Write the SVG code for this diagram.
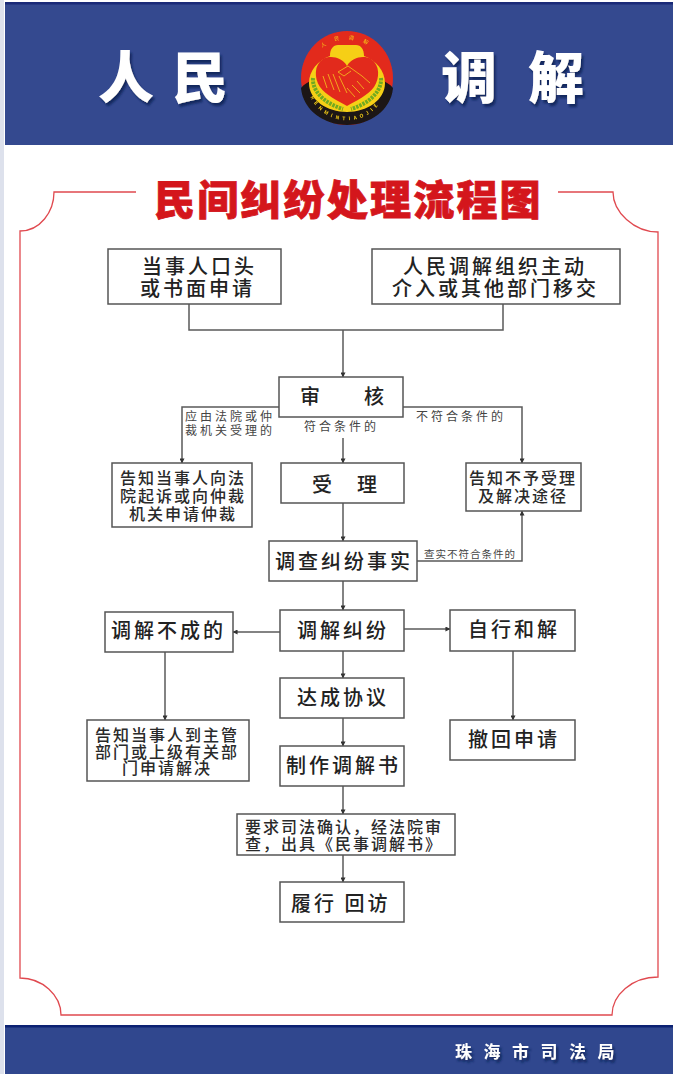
<svg xmlns="http://www.w3.org/2000/svg" xmlns:xlink="http://www.w3.org/1999/xlink" width="673" height="1074" viewBox="0 0 673 1074">
<style>
text{font-family:"Noto Sans CJK SC","Noto Sans",sans-serif;white-space:pre}
.box{fill:#fff;stroke:#555;stroke-width:1.5}
.t20{font-size:20px;font-weight:500;fill:#222;letter-spacing:3px}
.t17{font-size:16px;font-weight:500;fill:#2a2a2a;letter-spacing:2px}
.lab{font-size:12px;fill:#444;letter-spacing:3px}
.con{fill:none;stroke:#5a5a5a;stroke-width:1.5}
.arr{marker-end:url(#ah)}
.head{font-size:56px;font-weight:900;fill:#fff;filter:url(#sh)}
</style>
<defs>
<marker id="ah" viewBox="0 0 6 6" refX="5.5" refY="3" markerWidth="5" markerHeight="5" markerUnits="userSpaceOnUse" orient="auto"><path d="M0 0L6 3L0 6Z" fill="#333"/></marker>
<filter id="sh" x="-20%" y="-20%" width="140%" height="140%"><feDropShadow dx="2" dy="3" stdDeviation="1.2" flood-color="#10205a" flood-opacity="0.9"/></filter>
<filter id="soft"><feGaussianBlur stdDeviation="0.4"/></filter>
<path id="logoBottom" d="M310 96A40.300 40.300 0 0 0 384 96"/>
<path id="logoTop" d="M320 50A40 40 0 0 1 374 50"/>
</defs>
<rect width="673" height="1074" fill="#fff"/>
<rect x="0" y="0" width="4" height="1074" fill="#dde1ec"/>
<g id="header">
<rect x="5" y="2" width="668" height="143" fill="#34498f"/>
<rect x="5" y="2" width="668" height="2.500" fill="#1a2a78"/>
<text class="head" x="98" y="98">人</text>
<text class="head" x="172" y="98">民</text>
<text class="head" x="441" y="98">调</text>
<text class="head" x="528" y="98">解</text>
</g>
<g id="logo" filter="url(#soft)">
<ellipse cx="347" cy="78" rx="46" ry="47" fill="#e2291f"/>
<path d="M301 88C304 84 309 82 312 80L340 110H354L382 80C385 82 390 84 393 88C391 110 370 125 347 125C324 125 303 110 301 88Z" fill="#1c1512"/>
<path d="M330 56C330 49 333 45 338 45H356C361 45 364 49 364 56C376 60 385 71 385 83C385 100 367 112 347 112C327 112 309 100 309 83C309 71 318 60 330 56Z" fill="#f6cf16"/>
<path d="M347 66C342 57 330 55 323 59C314 65 314 78 320 87C326 95 338 101 347 106C356 101 368 95 374 87C380 78 380 65 371 59C364 55 352 57 347 66Z" fill="#e2291f"/>
<path d="M313 78C312 90 323 103 343 109M381 78C382 90 371 103 351 109" fill="none" stroke="#6faa22" stroke-width="4" stroke-dasharray="2.500 1"/>
<path d="M338 72L348 66L362 76L370 83M338 72L344 76L351 71M323 76L327 88M328 74L334 90M333 74L340 92M339 76L347 93M347 88L355 97M352 85L360 93M357 81L364 89" fill="none" stroke="#f2a51e" stroke-width="1"/>
<text font-size="5" fill="#f6cf16" letter-spacing="9"><textPath xlink:href="#logoTop" href="#logoTop" startOffset="3">人民调解</textPath></text>
<text font-size="5" font-weight="700" fill="#f6cf16" letter-spacing="3.500"><textPath xlink:href="#logoBottom" href="#logoBottom" startOffset="1">RENMINTIAOJIE</textPath></text>
</g>
<g id="title">
<text x="154" y="215" font-size="41" font-weight="900" fill="#d4161c" stroke="#d4161c" stroke-width="0.800" letter-spacing="2.200">民间纠纷处理流程图</text>
</g>
<path id="frame" d="M136 192H54C54 212 40 231 20 231V978C42 978 61 995 61 1015H612C612 995 632 977 658 977V232C634 232 613 212 613 192H558" fill="none" stroke="#e0494f" stroke-width="1.300"/>
<g id="connectors">
<path class="con" d="M189 304V330H503V304"/>
<path class="con arr" d="M343 330V377"/>
<path class="con arr" d="M279 407H182V463"/>
<path class="con arr" d="M403 407H522V463"/>
<path class="con arr" d="M343 438V463"/>
<path class="con arr" d="M343 503V541"/>
<path class="con arr" d="M417 561H522V511"/>
<path class="con arr" d="M343 581V610"/>
<path class="con arr" d="M280 632H233"/>
<path class="con arr" d="M404 629H450"/>
<path class="con arr" d="M165 652V720"/>
<path class="con arr" d="M513 651V720"/>
<path class="con arr" d="M343 651V678"/>
<path class="con arr" d="M343 718V746"/>
<path class="con arr" d="M343 786V814"/>
<path class="con arr" d="M343 855V882"/>
</g>
<g id="labels">
<text class="lab"><tspan x="185" y="421">应由法院或仲</tspan><tspan x="185" y="435">裁机关受理的</tspan></text>
<text class="lab" x="304" y="431">符合条件的</text>
<text class="lab" x="416" y="421">不符合条件的</text>
<text class="lab" x="424" y="558" style="font-size:10.500px;letter-spacing:1px">查实不符合条件的</text>
</g>
<g id="n1"><rect class="box" x="108" y="249" width="173" height="55"/><text class="t20"><tspan x="142" y="274">当事人口头</tspan><tspan x="140" y="296">或书面申请</tspan></text></g>
<g id="n2"><rect class="box" x="372" y="249" width="248" height="55"/><text class="t20"><tspan x="403" y="274">人民调解组织主动</tspan><tspan x="392" y="296">介入或其他部门移交</tspan></text></g>
<g id="n3"><rect class="box" x="279" y="377" width="124" height="40"/><text class="t20" x="300" y="404" style="letter-spacing:44px">审核</text></g>
<g id="n4"><rect class="box" x="281" y="463" width="123" height="40"/><text class="t20" x="312" y="492" style="letter-spacing:25px">受理</text></g>
<g id="n5"><rect class="box" x="112" y="463" width="140" height="64"/><text class="t17"><tspan x="120" y="484">告知当事人向法</tspan><tspan x="120" y="502">院起诉或向仲裁</tspan><tspan x="129" y="520">机关申请仲裁</tspan></text></g>
<g id="n6"><rect class="box" x="466" y="463" width="115" height="48"/><text class="t17"><tspan x="469" y="484">告知不予受理</tspan><tspan x="478" y="502">及解决途径</tspan></text></g>
<g id="n7"><rect class="box" x="269" y="541" width="148" height="40"/><text class="t20" x="275" y="569">调查纠纷事实</text></g>
<g id="n8"><rect class="box" x="280" y="610" width="124" height="41"/><text class="t20" x="297" y="638">调解纠纷</text></g>
<g id="n9"><rect class="box" x="105" y="612" width="128" height="40"/><text class="t20" x="111" y="638">调解不成的</text></g>
<g id="n10"><rect class="box" x="450" y="610" width="125" height="41"/><text class="t20" x="468" y="637">自行和解</text></g>
<g id="n11"><rect class="box" x="280" y="678" width="124" height="40"/><text class="t20" x="297" y="705">达成协议</text></g>
<g id="n12"><rect class="box" x="280" y="746" width="124" height="40"/><text class="t20" x="286" y="773">制作调解书</text></g>
<g id="n13"><rect class="box" x="237" y="814" width="218" height="41"/><text class="t17"><tspan x="245" y="833">要求司法确认，经法院审</tspan><tspan x="245" y="850">查，出具《民事调解书》</tspan></text></g>
<g id="n14"><rect class="box" x="280" y="882" width="124" height="40"/><text class="t20" x="291" y="911">履行 回访</text></g>
<g id="n15"><rect class="box" x="87" y="720" width="162" height="61"/><text class="t17"><tspan x="95" y="741">告知当事人到主管</tspan><tspan x="95" y="758">部门或上级有关部</tspan><tspan x="122" y="774">门申请解决</tspan></text></g>
<g id="n16"><rect class="box" x="450" y="720" width="125" height="40"/><text class="t20" x="468" y="747">撤回申请</text></g>
<g id="footer">
<rect x="5" y="1025" width="668" height="49" fill="#30478e"/>
<rect x="5" y="1025" width="668" height="2.500" fill="#0c2273"/>
<text x="455" y="1058" font-size="17" font-weight="700" fill="#fff" letter-spacing="11.500" style="filter:url(#sh)">珠海市司法局</text>
</g>
</svg>
